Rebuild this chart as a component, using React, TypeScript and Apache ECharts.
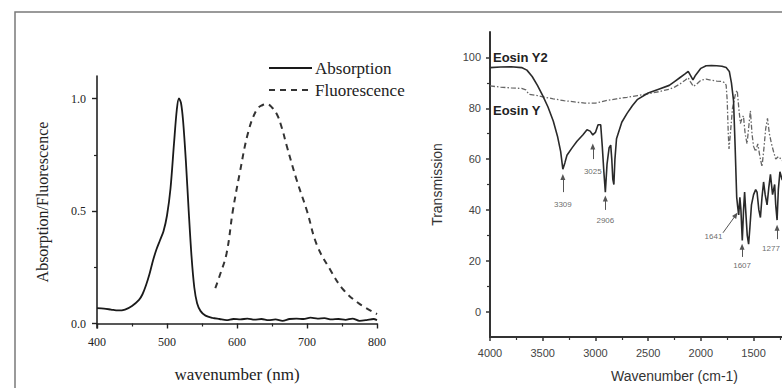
import React, { useEffect, useRef } from "react";
import * as echarts from "echarts";

// ---------- Left panel: absorption / fluorescence ----------
const absWavelength = [400, 410, 420, 430, 440, 450, 460, 465, 470, 475, 480, 485, 490, 495, 500, 505, 510, 514, 517, 520, 523, 527, 531, 535, 539, 543, 548, 555, 565, 575, 585, 595, 605, 615, 625, 635, 645, 655, 665, 675, 685, 695, 705, 715, 725, 735, 745, 755, 765, 775, 785, 795, 800];
const absValue = [0.068, 0.066, 0.062, 0.058, 0.062, 0.078, 0.105, 0.13, 0.17, 0.22, 0.28, 0.33, 0.37, 0.41, 0.48, 0.6, 0.8, 0.95, 1.0, 0.98, 0.9, 0.72, 0.5, 0.3, 0.16, 0.09, 0.055, 0.035, 0.025, 0.02, 0.015, 0.02, 0.018, 0.022, 0.017, 0.02, 0.015, 0.018, 0.012, 0.02, 0.022, 0.02, 0.026, 0.022, 0.024, 0.018, 0.02, 0.016, 0.022, 0.012, 0.015, 0.02, 0.015];
const fluWavelength = [569, 575, 585, 594, 604, 616, 628, 636, 643, 650, 657, 664, 671, 685, 700, 714, 733, 752, 776, 800];
const fluValue = [0.157, 0.21, 0.31, 0.5, 0.67, 0.85, 0.95, 0.97, 0.975, 0.96, 0.93, 0.87, 0.79, 0.64, 0.5, 0.35, 0.24, 0.15, 0.085, 0.042];
const leftYLabelValues = [0, 0.5, 1.0];
const leftYMinorValues = [0.25, 0.75];
const legendNames = ["Absorption", "Fluorescence"];

// ---------- Right panel: FTIR ----------
const y2Wavenumber = [4000, 3900, 3800, 3700, 3650, 3600, 3550, 3500, 3450, 3400, 3360, 3330, 3309, 3290, 3270, 3220, 3175, 3120, 3080, 3050, 3025, 3000, 2975, 2950, 2935, 2920, 2906, 2890, 2870, 2855, 2845, 2835, 2825, 2815, 2800, 2750, 2700, 2650, 2600, 2500, 2400, 2300, 2250, 2200, 2150, 2120, 2100, 2075, 2050, 2000, 1950, 1900, 1850, 1800, 1760, 1730, 1710, 1690, 1675, 1660, 1650, 1641, 1630, 1620, 1607, 1595, 1585, 1575, 1560, 1547, 1535, 1520, 1500, 1480, 1467, 1450, 1435, 1420, 1405, 1390, 1372, 1355, 1340, 1320, 1300, 1290, 1277, 1265, 1250, 1230, 1200];
const y2Transmission = [96, 96.2, 96.3, 96, 95, 92.5, 89, 85, 80.5, 75, 69, 63, 56, 58.5, 61.5, 64.5, 67, 69.5, 71.5, 71, 69.5, 70.5, 73.5, 73.5, 65, 55, 47, 58, 64.5, 65.5, 60, 52, 50, 60, 68, 74.5, 78, 81, 83.5, 86, 87.5, 89, 90.5, 92, 93.5, 94.5, 93, 91.2, 93, 95.7, 96.7, 96.8, 96.7, 96.5, 96, 94.5, 90, 83, 65, 45, 41, 38, 45, 40, 28, 40, 47, 40, 30, 26.5, 33, 42, 46, 48, 47, 40, 37, 45, 51, 46, 42, 49, 54, 46, 50, 42, 36, 48, 55, 52, 50];
const yWavenumber = [4000, 3900, 3800, 3700, 3660, 3630, 3550, 3500, 3400, 3300, 3200, 3100, 3000, 2900, 2800, 2700, 2600, 2500, 2400, 2300, 2250, 2200, 2150, 2120, 2100, 2070, 2040, 2000, 1950, 1900, 1850, 1800, 1770, 1760, 1750, 1740, 1733, 1720, 1700, 1670, 1655, 1640, 1625, 1610, 1596, 1580, 1562, 1545, 1530, 1515, 1500, 1480, 1460, 1440, 1420, 1400, 1385, 1368, 1350, 1330, 1311, 1290, 1264, 1240, 1200];
const yTransmission = [88.8, 88.3, 88, 87.8, 87.2, 85.5, 85, 84.5, 83.7, 83, 82.5, 82, 82, 83, 83.7, 84.3, 85, 85.7, 86.5, 87.5, 88.3, 89.5, 91, 92, 90.5, 88.6, 89.5, 91, 91.5, 91, 90.7, 90.5, 90, 89, 83, 70, 64, 70, 80, 86, 87, 80, 74, 76, 77, 70, 66, 73, 79, 70, 65, 63, 66, 61, 57, 65, 72, 76, 70, 66, 63, 60, 61, 60, 58];
const rightYLabelValues = [0, 20, 40, 60, 80, 100];
const rightYMinorValues = [10, 30, 50, 70, 90];
const rightXLabelMin = 1500; // labels further right fall outside the picture

// peak annotations
const peakNames = ["3309", "3025", "2906", "1641", "1607", "1277"];
const peakLabelX = [3309, 3025, 2906, 1880, 1609, 1335];
const peakLabelY = [42, 55, 36, 29.5, 18, 25];
const arrowFromX = [3309, 3025, 2906, 1790, 1609, 1277];
const arrowFromY = [47, 60, 40, 31, 21.5, 28.5];
const arrowTipX = [3309, 3025, 2906, 1668, 1609, 1277];
const arrowTipY = [53, 65, 44.5, 38, 25.5, 33];

const serif = "Liberation Serif";
const sans = "Liberation Sans";

export default function App() {
  const ref = useRef<HTMLDivElement>(null);
  useEffect(() => {
    if (!ref.current) return;
    const chart = echarts.init(ref.current, undefined, { renderer: "svg" });
    const absData = absWavelength.map((w, i) => [w, absValue[i]]);
    const fluData = fluWavelength.map((w, i) => [w, fluValue[i]]);
    const y2Data = y2Wavenumber.map((w, i) => [w, y2Transmission[i]]);
    const yData = yWavenumber.map((w, i) => [w, yTransmission[i]]);
    const peakData = peakNames.map((n, i) => ({ name: n, value: [peakLabelX[i], peakLabelY[i]] }));
    const arrows = peakNames.map((_, i) => [
      { coord: [arrowFromX[i], arrowFromY[i]] },
      { coord: [arrowTipX[i], arrowTipY[i]] },
    ]);

    chart.setOption({
      animation: false,
      backgroundColor: "#ffffff",
      graphic: [
        {
          type: "rect",
          silent: true,
          shape: { x: 15, y: 12, width: 900, height: 420 },
          style: { fill: "none", stroke: "#7a7a7a", lineWidth: 1.5 },
        },
        // legend (left panel)
        {
          type: "line",
          silent: true,
          shape: { x1: 269, y1: 68, x2: 312, y2: 68 },
          style: { stroke: "#1a1a1a", lineWidth: 2 },
        },
        {
          type: "line",
          silent: true,
          shape: { x1: 269, y1: 90, x2: 312, y2: 90 },
          style: { stroke: "#333", lineWidth: 2, lineDash: [6, 5] },
        },
        {
          type: "text",
          x: 315,
          y: 68,
          style: { text: legendNames[0], font: `17px "${serif}"`, fill: "#222", textVerticalAlign: "middle" },
        },
        {
          type: "text",
          x: 315,
          y: 90,
          style: { text: legendNames[1], font: `17px "${serif}"`, fill: "#222", textVerticalAlign: "middle" },
        },
        {
          type: "text",
          x: 493,
          y: 57,
          style: { text: "Eosin Y2", font: `bold 13px "${sans}"`, fill: "#222", textVerticalAlign: "middle" },
        },
        {
          type: "text",
          x: 493,
          y: 110,
          style: { text: "Eosin Y", font: `bold 13px "${sans}"`, fill: "#222", textVerticalAlign: "middle" },
        },
      ],
      grid: [
        { left: 97, right: 493, top: 76, bottom: 56 },
        { left: 490, right: 11, top: 32, bottom: 46 },
      ],
      xAxis: [
        {
          gridIndex: 0,
          type: "value",
          min: 400,
          max: 800,
          interval: 100,
          name: "wavenumber (nm)",
          nameLocation: "middle",
          nameGap: 38,
          nameTextStyle: { fontFamily: serif, fontSize: 17, color: "#222" },
          axisLine: { lineStyle: { color: "#222", width: 1.6 } },
          axisTick: { length: 5, lineStyle: { color: "#222", width: 1.4 } },
          minorTick: { show: true, splitNumber: 2, length: 3, lineStyle: { color: "#222", width: 1.2 } },
          axisLabel: { fontFamily: serif, fontSize: 12, color: "#222", margin: 8 },
          splitLine: { show: false },
        },
        {
          gridIndex: 1,
          type: "value",
          min: 500,
          max: 4000,
          interval: 500,
          inverse: true,
          name: "Wavenumber (cm-1)",
          nameLocation: "middle",
          nameGap: 32,
          nameTextStyle: { fontFamily: sans, fontSize: 14, color: "#333" },
          axisLine: { onZero: false, lineStyle: { color: "#333", width: 2 } },
          axisTick: { length: 4, lineStyle: { color: "#333", width: 1.5 } },
          minorTick: { show: true, splitNumber: 2, length: 3, lineStyle: { color: "#333", width: 1.2 } },
          axisLabel: {
            fontFamily: sans,
            fontSize: 11,
            color: "#444",
            margin: 10,
            formatter: (v: number) => (v >= rightXLabelMin ? String(v) : ""),
          },
          splitLine: { show: false },
        },
      ],
      yAxis: [
        {
          gridIndex: 0,
          type: "value",
          position: "left",
          min: -0.02,
          max: 1.1,
          name: "Absorption/Fluorescence",
          nameLocation: "middle",
          nameGap: 47,
          nameTextStyle: { fontFamily: serif, fontSize: 16, color: "#222" },
          axisLine: { show: true, onZero: false, lineStyle: { color: "#222", width: 1.6 } },
          axisTick: { show: true, length: 5, customValues: leftYLabelValues, lineStyle: { color: "#222", width: 1.4 } },
          axisLabel: {
            fontFamily: serif,
            fontSize: 12,
            color: "#222",
            margin: 11,
            customValues: leftYLabelValues,
            formatter: (v: number) => v.toFixed(1),
          },
          splitLine: { show: false },
        },
        {
          gridIndex: 0,
          type: "value",
          position: "left",
          offset: 0,
          min: -0.02,
          max: 1.1,
          axisLine: { show: false },
          axisTick: { show: true, length: 3, customValues: leftYMinorValues, lineStyle: { color: "#222", width: 1.2 } },
          axisLabel: { show: false },
          splitLine: { show: false },
        },
        {
          gridIndex: 1,
          type: "value",
          position: "left",
          min: -10,
          max: 110,
          name: "Transmission",
          nameLocation: "middle",
          nameGap: 46,
          nameTextStyle: { fontFamily: sans, fontSize: 14, color: "#333" },
          axisLine: { show: true, onZero: false, lineStyle: { color: "#333", width: 2 } },
          axisTick: { show: true, length: 4, customValues: rightYLabelValues, lineStyle: { color: "#333", width: 1.5 } },
          axisLabel: { fontFamily: sans, fontSize: 11, color: "#444", margin: 9, customValues: rightYLabelValues },
          splitLine: { show: false },
        },
        {
          gridIndex: 1,
          type: "value",
          position: "left",
          offset: 0,
          min: -10,
          max: 110,
          axisLine: { show: false },
          axisTick: { show: true, length: 3, customValues: rightYMinorValues, lineStyle: { color: "#333", width: 1.2 } },
          axisLabel: { show: false },
          splitLine: { show: false },
        },
      ],
      series: [
        {
          name: "Absorption",
          type: "line",
          xAxisIndex: 0,
          yAxisIndex: 0,
          data: absData,
          showSymbol: false,
          symbol: "none",
          smooth: 0.3,
          lineStyle: { color: "#1a1a1a", width: 1.8, type: "solid" },
        },
        {
          name: "Fluorescence",
          type: "line",
          xAxisIndex: 0,
          yAxisIndex: 0,
          data: fluData,
          showSymbol: false,
          symbol: "none",
          smooth: 0.4,
          lineStyle: { color: "#333", width: 2, type: [6, 5] },
        },
        {
          name: "Eosin Y",
          type: "line",
          xAxisIndex: 1,
          yAxisIndex: 2,
          data: yData,
          showSymbol: false,
          symbol: "none",
          lineStyle: { color: "#666", width: 1.3, type: [5, 2, 1.5, 2] },
        },
        {
          name: "Eosin Y2",
          type: "line",
          xAxisIndex: 1,
          yAxisIndex: 2,
          data: y2Data,
          showSymbol: false,
          symbol: "none",
          lineStyle: { color: "#2a2a2a", width: 1.6 },
        },
        {
          name: "peaks",
          type: "scatter",
          xAxisIndex: 1,
          yAxisIndex: 2,
          data: peakData,
          symbol: "circle",
          symbolSize: 1,
          itemStyle: { color: "rgba(0,0,0,0)" },
          silent: true,
          label: {
            show: true,
            position: "inside",
            formatter: (p: any) => p.name,
            fontFamily: sans,
            fontSize: 8,
            color: "#444",
          },
          markLine: {
            silent: true,
            symbol: ["none", "triangle"],
            symbolSize: [5, 6],
            label: { show: false },
            lineStyle: { color: "#555", width: 1, type: "solid" },
            data: arrows,
          },
        },
      ],
    });
    return () => chart.dispose();
  }, []);
  return (
    <div style={{ position: "fixed", left: 0, top: 0, width: 782, height: 388, overflow: "hidden", background: "#fff" }}>
      <div ref={ref} style={{ position: "absolute", left: 0, top: 0, width: 870, height: 388 }} />
    </div>
  );
}
